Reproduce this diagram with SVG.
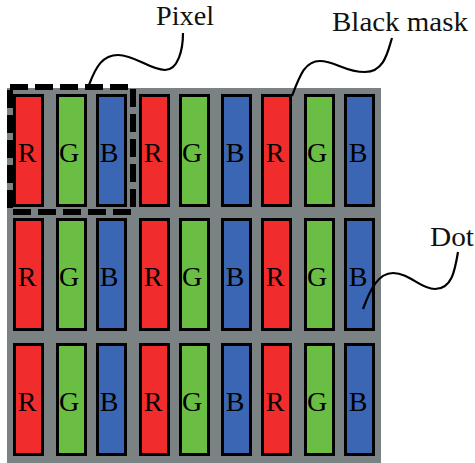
<svg xmlns="http://www.w3.org/2000/svg" width="475" height="463" viewBox="0 0 475 463">
<style>
.lbl{font-family:"Liberation Serif","Times New Roman",serif;font-size:28px;fill:#111}
.cl{font-family:"Liberation Serif","Times New Roman",serif;font-size:28px;fill:#000;text-anchor:middle}
.r{fill:#F02D2C;stroke:#000;stroke-width:3}
.g{fill:#6BBE44;stroke:#000;stroke-width:3}
.b{fill:#3A66B4;stroke:#000;stroke-width:3}
.lead{fill:none;stroke:#000;stroke-width:2.2}
</style>
<defs>
<g id="rowcells">
<rect class="r" x="14.5" y="0" width="28" height="110"/>
<rect class="g" x="57.5" y="0" width="28" height="110"/>
<rect class="b" x="97.5" y="0" width="28" height="110"/>
<rect class="r" x="140.5" y="0" width="28" height="110"/>
<rect class="g" x="180.5" y="0" width="28" height="110"/>
<rect class="b" x="222.5" y="0" width="28" height="110"/>
<rect class="r" x="262.5" y="0" width="28" height="110"/>
<rect class="g" x="305.5" y="0" width="28" height="110"/>
<rect class="b" x="345.5" y="0" width="28" height="110"/>
<text class="cl" x="27" y="66">R</text>
<text class="cl" x="69" y="66">G</text>
<text class="cl" x="109" y="66">B</text>
<text class="cl" x="153" y="66">R</text>
<text class="cl" x="192" y="66">G</text>
<text class="cl" x="235" y="66">B</text>
<text class="cl" x="275" y="66">R</text>
<text class="cl" x="317" y="66">G</text>
<text class="cl" x="358" y="66">B</text>
</g>
</defs>
<g id="black-mask-panel">
<rect x="7" y="88" width="374" height="375" fill="#7A8283"/>
</g>
<g id="row1"><use href="#rowcells" x="0" y="95.5"/></g>
<g id="row2"><use href="#rowcells" x="0" y="219.5"/></g>
<g id="row3"><use href="#rowcells" x="0" y="344.5"/></g>
<g id="pixel-box">
<rect x="10" y="87" width="123" height="125" fill="none" stroke="#000" stroke-width="6" stroke-dasharray="18 7"/>
</g>
<g id="connectors">
<path class="lead" d="M89,85 C96,66 103,55 118,55 C135,55 150,70 165,70 C178,70 183,50 183,33"/>
<path class="lead" d="M292,96 C300,75 305,61 320,61 C335,61 345,72 365,72 C385,72 388,50 392,38"/>
<path class="lead" d="M363,309 C370,290 378,273 393,273 C410,273 420,289 435,289 C452,289 455,270 458,252"/>
</g>
<g id="label-pixel"><text class="lbl" x="156" y="25" textLength="58" lengthAdjust="spacingAndGlyphs">Pixel</text></g>
<g id="label-blackmask"><text class="lbl" x="332" y="31" textLength="136" lengthAdjust="spacingAndGlyphs">Black mask</text></g>
<g id="label-dot"><text class="lbl" x="430" y="246" textLength="44" lengthAdjust="spacingAndGlyphs">Dot</text></g>
</svg>
